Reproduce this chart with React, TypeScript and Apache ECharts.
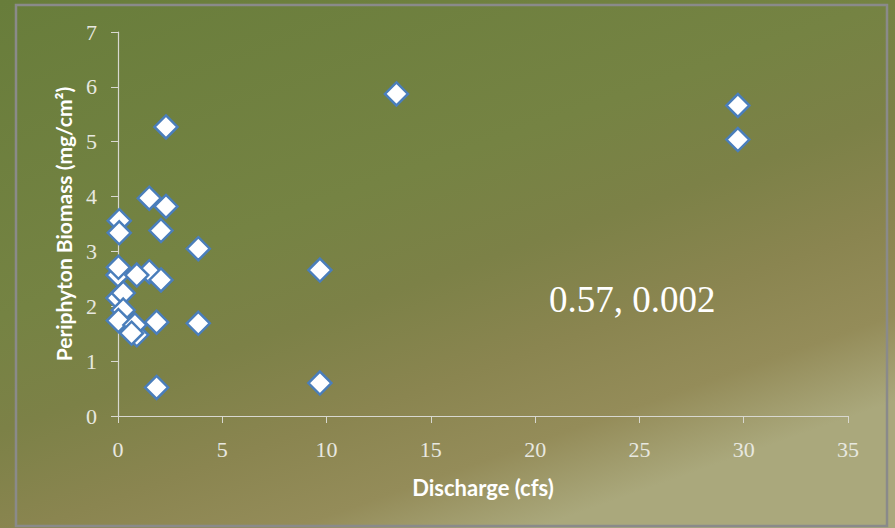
import React, { useEffect, useRef } from "react";
import * as echarts from "echarts";

const discharge = [
  13.35, 29.72, 29.72, 2.3, 1.5, 2.3, 0.06, 0.06, 2.06, 3.85, 9.68, 3.85, 9.68,
  1.85, 1.85, 1.5, 0.0, 0.9, 2.06, 0.02, 0.0, 0.25, 0.25, 0.02, 0.9, 0.81, 0.65,
];
const biomass = [
  5.87, 5.66, 5.04, 5.27, 3.97, 3.82, 3.56, 3.34, 3.38, 3.05, 2.66, 1.69, 0.6,
  0.52, 1.71, 2.63, 2.57, 2.57, 2.48, 2.71, 2.15, 2.24, 1.93, 1.74, 1.48, 1.66, 1.51,
];
const xTicks = [0, 5, 10, 15, 20, 25, 30, 35];
const yTicks = [0, 1, 2, 3, 4, 5, 6, 7];
const annotation = "0.57, 0.002";
const xTitle = "Discharge (cfs)";
const yTitle = "Periphyton Biomass (mg/cm²)";

export default function App() {
  const ref = useRef<HTMLDivElement>(null);
  useEffect(() => {
    document.body.style.margin = "0";
    const chart = echarts.init(ref.current!, null, { renderer: "svg" });
    const points = discharge.map((x, i) => [x, biomass[i]]);
    const axisLine = { lineStyle: { color: "#d8d8d0", width: 1.2 } };
    chart.setOption({
      animation: false,
      backgroundColor: new echarts.graphic.LinearGradient(0, 0, 0.6, 1, [
        { offset: 0, color: "#687d3b" },
        { offset: 0.44, color: "#758343" },
        { offset: 0.6, color: "#7c8147" },
        { offset: 0.75, color: "#8a8550" },
        { offset: 0.88, color: "#948c59" },
        { offset: 1, color: "#aaa87c" },
      ]),
      grid: { left: 118, right: 47, top: 32, bottom: 112 },
      xAxis: {
        type: "value",
        min: xTicks[0],
        max: xTicks[xTicks.length - 1],
        interval: 5,
        name: xTitle,
        nameLocation: "middle",
        nameGap: 60,
        nameTextStyle: { color: "#ffffff", fontFamily: "Lato", fontWeight: "bold", fontSize: 22 },
        axisLine,
        axisTick: { show: true, length: 7, lineStyle: { color: "#d8d8d0" } },
        splitLine: { show: false },
        axisLabel: { margin: 22, color: "#e8e8e0", fontFamily: "Liberation Serif", fontSize: 22 },
      },
      yAxis: {
        type: "value",
        min: yTicks[0],
        max: yTicks[yTicks.length - 1],
        interval: 1,
        name: yTitle,
        nameLocation: "middle",
        nameGap: 44,
        nameTextStyle: { color: "#ffffff", fontFamily: "Lato", fontWeight: "bold", fontSize: 21 },
        axisLine: { show: true, ...axisLine },
        axisTick: { show: true, length: 7, lineStyle: { color: "#d8d8d0" } },
        splitLine: { show: false },
        axisLabel: { margin: 21, color: "#e8e8e0", fontFamily: "Liberation Serif", fontSize: 22 },
      },
      series: [
        {
          type: "scatter",
          data: points,
          symbol: "diamond",
          symbolSize: 23,
          itemStyle: { color: "#ffffff", borderColor: "#4a7ebb", borderWidth: 2.5, opacity: 1 },
        },
      ],
      graphic: [
        {
          type: "rect",
          shape: { x: 16, y: 5, width: 871, height: 521 },
          style: { fill: "none", stroke: "#8a8a8a", lineWidth: 2.5 },
          silent: true,
        },
        {
          type: "text",
          x: 549,
          y: 299,
          style: {
            text: annotation,
            fill: "#ffffff",
            font: "37px 'Liberation Serif'",
            textVerticalAlign: "middle",
          },
        },
      ],
    });
    return () => chart.dispose();
  }, []);
  return <div ref={ref} style={{ width: 895, height: 528 }} />;
}
